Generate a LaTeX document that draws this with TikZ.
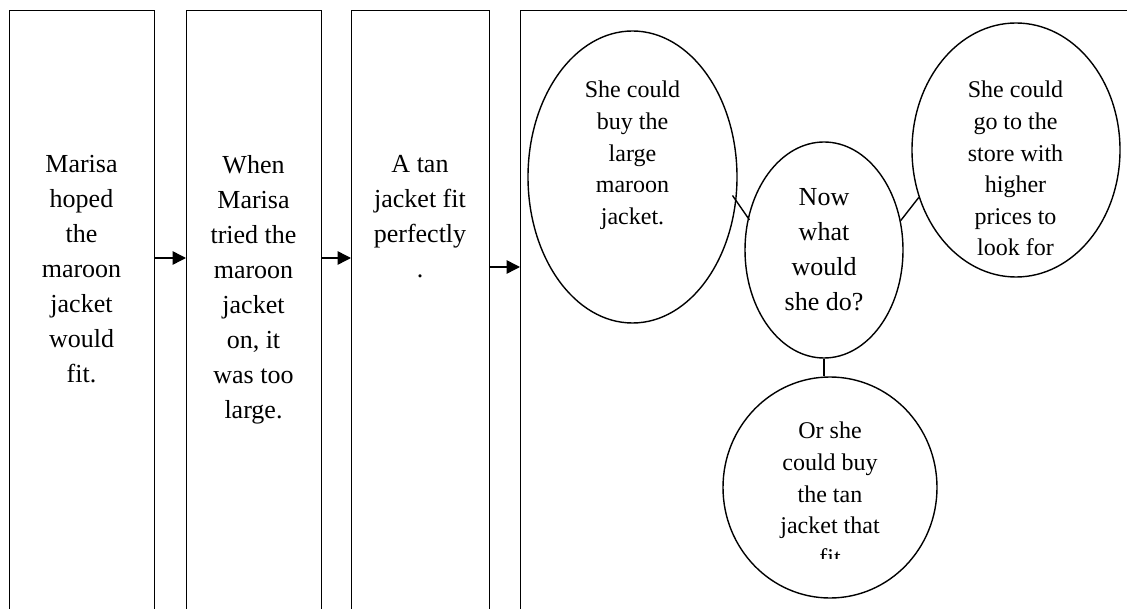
\documentclass[tikz,border=0pt]{standalone}
\usepackage{fontspec}
\setmainfont{Liberation Serif}
\usetikzlibrary{shapes.geometric,arrows.meta}

\begin{document}
\begin{tikzpicture}[x=0.75pt,y=-0.75pt,
	panel/.style={draw,line width=1pt,rectangle,inner sep=0pt,anchor=north west,minimum height=540pt},
	bubble/.style={draw,line width=1.05pt,ellipse,inner sep=0pt},
	boxtext/.style={anchor=north,align=center,inner sep=0pt,font=\fontsize{19.5}{26.25}\selectfont},
	bubtext/.style={anchor=north,align=center,inner sep=0pt,font=\fontsize{18}{23.7}\selectfont},
	flow/.style={line width=1.1pt,-{Triangle[length=10pt,width=10pt]}},
	link/.style={line width=1.05pt}]
			\def\boxtop{10}
			\def\texttop{155}
			
			\useasboundingbox (0,0) rectangle (1127,609);
			\clip (0,0) rectangle (1127,609);
			
			% Draw the four panels, open at the bottom
			\node[panel,minimum width=108.75pt] (story1) at (9,\boxtop) {};
			\node[panel,minimum width=101.25pt] (story2) at (186,\boxtop) {};
			\node[panel,minimum width=103.5pt] (story3) at (351,\boxtop) {};
			\node[panel,minimum width=510pt] (story4) at (520,\boxtop) {};
			
			\node[boxtext] (text1) at (81.5,\texttop) {Marisa\\hoped\\the\\maroon\\jacket\\would\\fit.};
			\node[boxtext] (text2) at (253.5,\texttop) {When\\Marisa\\tried the\\maroon\\jacket\\on, it\\was too\\large.};
			\node[boxtext] (text3) at (420,\texttop) {A tan\\jacket fit\\perfectly\\.};
			
			% Arrows between panels
			\draw[flow] (story1.east |- 0,258) -- (story2.west |- 0,258);
			\draw[flow] (story2.east |- 0,258) -- (story3.west |- 0,258);
			\draw[flow] (story3.east |- 0,267) -- (story4.west |- 0,267);
			
			% Bubbles in the last panel
			\node[bubble,minimum width=156.75pt,minimum height=219pt] (large) at (632.5,177) {};
			\node[bubble,minimum width=118.5pt,minimum height=162pt] (question) at (824,250) {};
			\node[bubble,minimum width=156pt,minimum height=190.5pt] (store) at (1016,150) {};
			\node[bubble,minimum width=160.5pt,minimum height=165.75pt] (tan) at (830,487.5) {};
			
			\node[bubtext] (largetext) at (632.5,81) {She could\\buy the\\large\\maroon\\jacket.};
			\node[boxtext] (questiontext) at (824,188) {Now\\what\\would\\she do?};
			\node[bubtext] (storetext) at (1015.5,81) {She could\\go to the\\store with\\higher\\prices to\\look for};
			\begin{scope}
				\clip (700,400) rectangle (960,558);
				\node[bubtext] (tantext) at (830,422) {Or she\\could buy\\the tan\\jacket that\\fit};
			\end{scope}
			
			\draw[link,shorten <=-5pt,shorten >=-2pt] (large.-13) -- (question.157);
			\draw[link] (question.21) -- (store.206);
			\draw[link] (question.south) -- (question.south |- tan.north);
		\end{tikzpicture}
\end{document}
